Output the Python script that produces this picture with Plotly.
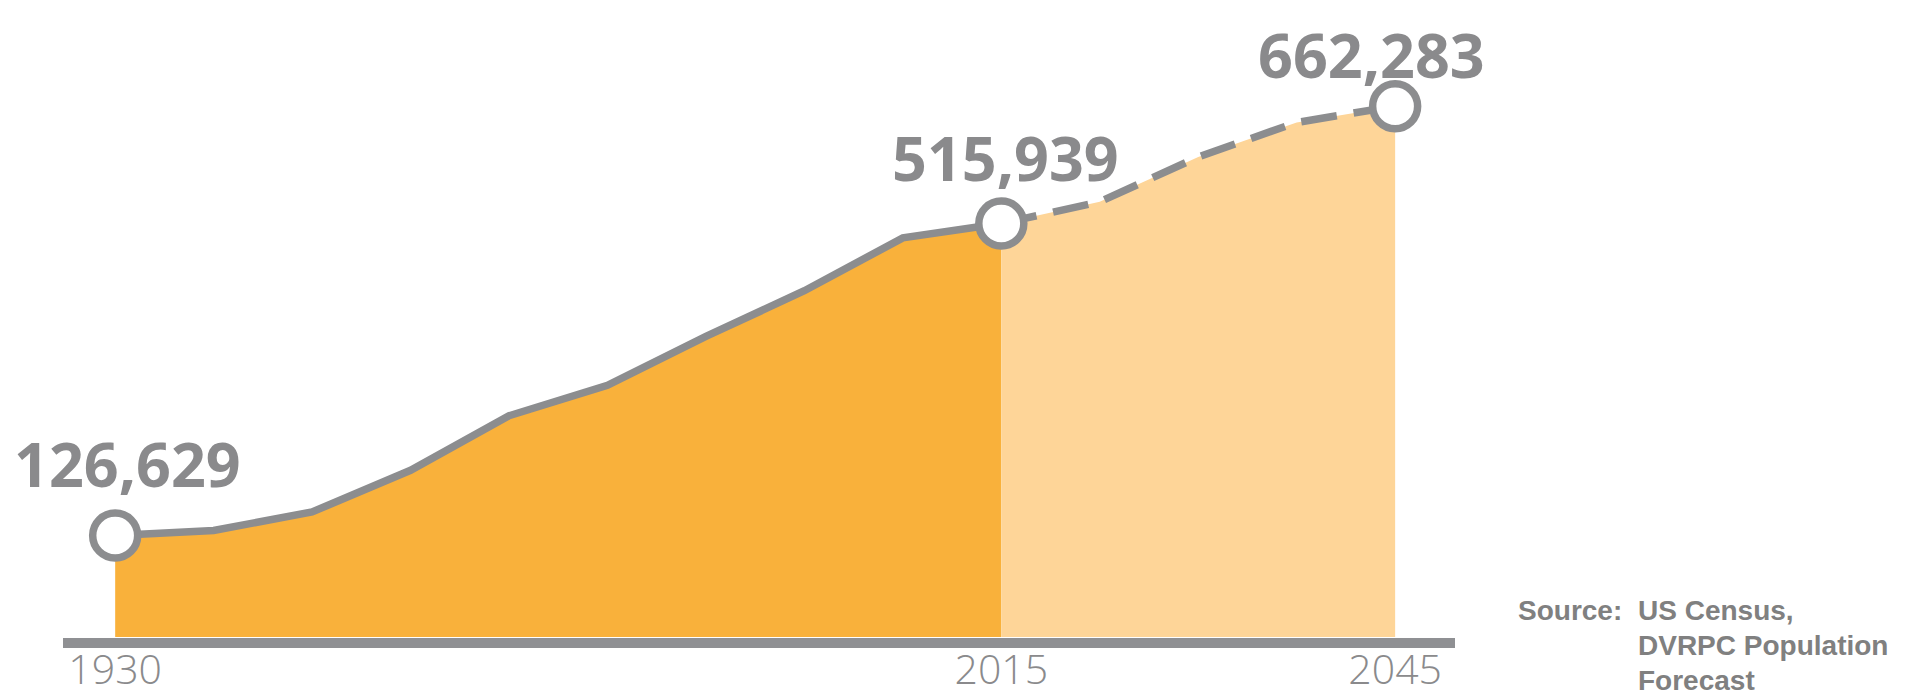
import plotly.graph_objects as go

# ---- data ----
hist_years = ["1930", "1940", "1950", "1960", "1970", "1980", "1990", "2000", "2010", "2015"]
hist_pop = [126629, 133000, 156000, 208000, 276000, 314000, 375000, 432000, 498000, 515939]

fc_years = ["2015", "2020", "2030", "2040", "2045"]
fc_pop = [515939, 543000, 599000, 642000, 662283]

key_years = ["1930", "2015", "2045"]
key_pop = [126629, 515939, 662283]
key_labels = ["126,629", "515,939", "662,283"]

tick_years = ["1930", "2015", "2045"]
source_lines = ["US Census,", "DVRPC Population", "Forecast"]

all_years = hist_years + fc_years[1:]

# ---- styles ----
W, H = 1908, 695
ML, MR, MT, MB = 55, 461, 0, 66
PW, PH = W - ML - MR, H - MT - MB
GRAY = "#8c8d8f"
TEXT_GRAY = "#8a8a8c"
DARK = "#f9b13b"
LIGHT = "#fed598"

fig = go.Figure()

fig.add_trace(go.Scatter(
    x=hist_years, y=hist_pop, mode="lines", fill="tozeroy",
    fillcolor=DARK, line=dict(color=GRAY, width=7.5), hoverinfo="skip",
    showlegend=False, cliponaxis=False,
))
fig.add_trace(go.Scatter(
    x=fc_years, y=fc_pop, mode="lines", fill="tozeroy",
    fillcolor=LIGHT, line=dict(color=GRAY, width=7.5, dash="36px,17px"),
    hoverinfo="skip", showlegend=False, cliponaxis=False,
))
fig.add_trace(go.Scatter(
    x=key_years, y=key_pop, mode="markers",
    marker=dict(size=45, color="white", line=dict(color=GRAY, width=7.5)),
    showlegend=False, cliponaxis=False, hoverinfo="skip",
))


def px_x(p):
    return (p - ML) / PW


def px_y(p):
    return (MT + PH - p) / PH


# value labels
label_shift = [(12, 72, 61), (4, 66, 61), (-24, 52, 61)]
for yr, v, t, (dx, dy, fs) in zip(key_years, key_pop, key_labels, label_shift):
    fig.add_annotation(
        x=all_years.index(yr), y=v, xref="x", yref="y", text=t, showarrow=False,
        xanchor="center", yanchor="middle", xshift=dx, yshift=dy,
        font=dict(family="Open Sans", size=fs, color=TEXT_GRAY, weight="bold"),
    )

# base bar under the chart
fig.add_shape(
    type="rect", xref="paper", yref="paper", x0=0, x1=1,
    y0=px_y(640), y1=px_y(630), fillcolor="#8f9093", line=dict(width=0), layer="above",
)

src_font = dict(family="Liberation Sans", size=28, color="#808080", weight="bold")
fig.add_annotation(x=px_x(1508), y=px_y(602), xref="paper", yref="paper", text="Source:",
                   showarrow=False, xanchor="left", yanchor="middle", font=src_font)
for line, cy in zip(source_lines, [602, 637, 672]):
    fig.add_annotation(x=px_x(1628), y=px_y(cy), xref="paper", yref="paper", text=line,
                       showarrow=False, xanchor="left", yanchor="middle", font=src_font)

y_top = 784800
fig.update_layout(
    width=W, height=H,
    margin=dict(l=ML, r=MR, t=MT, b=MB),
    paper_bgcolor="white", plot_bgcolor="white",
    xaxis=dict(
        type="category", categoryorder="array", categoryarray=all_years,
        range=[-0.53, 13.608], showgrid=False, zeroline=False, showline=False,
        tickmode="array", tickvals=tick_years, ticktext=tick_years, ticks="",
        tickfont=dict(family="Open Sans", size=41, color=TEXT_GRAY, weight=300),
        ticklabelstandoff=5,
    ),
    yaxis=dict(range=[0, y_top], visible=False, fixedrange=True),
)

fig.write_html("out.html")
